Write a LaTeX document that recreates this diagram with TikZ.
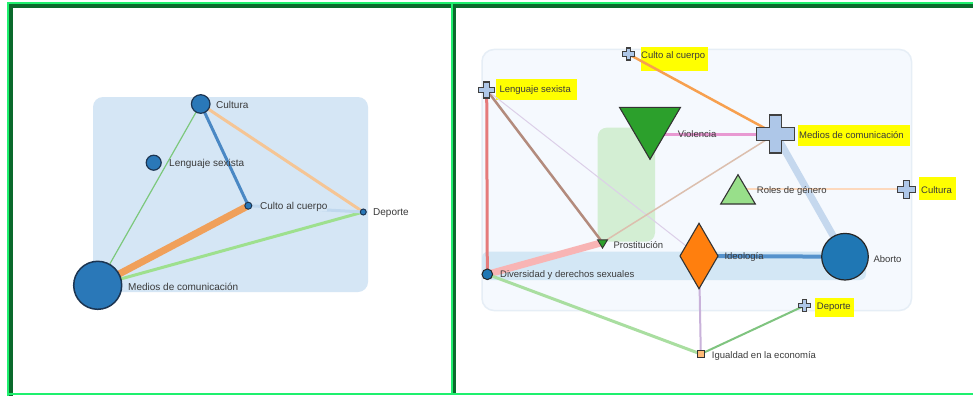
\documentclass[tikz,border=0pt]{standalone}
\usepackage{fontspec}
\setmainfont{Liberation Sans}
\usetikzlibrary{shapes.geometric}
\definecolor{gbright}{HTML}{1EF06E}
\definecolor{gdark}{HTML}{0B6A2C}
\definecolor{lpanel}{HTML}{D5E6F5}
\definecolor{rpanel}{HTML}{F5F9FE}
\definecolor{rpanelline}{HTML}{E6EEF6}
\definecolor{greenrect}{HTML}{D3EED3}
\definecolor{blueband}{HTML}{D3E7F5}
\definecolor{nodeblue}{HTML}{2A78B8}
\definecolor{nodestroke}{HTML}{1C3552}
\definecolor{plusfill}{HTML}{AEC7E8}
\definecolor{hl}{HTML}{FFFF00}
\definecolor{txt}{HTML}{3A3A3A}
% left edges
\definecolor{eLa}{RGB}{124,200,124}
\definecolor{eLb}{RGB}{74,136,196}
\definecolor{eLc}{RGB}{245,197,149}
\definecolor{eLd}{RGB}{240,160,90}
\definecolor{eLe}{RGB}{158,224,142}
\definecolor{eLf}{RGB}{192,216,238}
% right edges
\definecolor{eRa}{RGB}{247,160,79}
\definecolor{eRb}{RGB}{229,123,123}
\definecolor{eRc}{RGB}{179,139,125}
\definecolor{eRd}{RGB}{220,207,232}
\definecolor{eRe}{RGB}{232,153,210}
\definecolor{eRf}{RGB}{220,191,174}
\definecolor{eRg}{RGB}{197,216,238}
\definecolor{eRh}{RGB}{253,217,189}
\definecolor{eRi}{RGB}{85,146,204}
\definecolor{eRj}{RGB}{248,180,180}
\definecolor{eRk}{RGB}{169,222,160}
\definecolor{eRl}{RGB}{201,178,218}
\definecolor{eRm}{RGB}{127,196,127}
% shape fills
\definecolor{dgreen}{RGB}{44,160,44}
\definecolor{lgreen}{RGB}{152,223,138}
\definecolor{orangef}{RGB}{255,127,14}
\definecolor{bluef}{RGB}{31,119,180}
\definecolor{peach}{RGB}{255,187,120}
\newcommand\plusmark[3]{\draw[plusst, shift={(#1)}] (-#3,-#2) -- (#3,-#2) -- (#3,-#3) -- (#2,-#3) -- (#2,#3) -- (#3,#3) -- (#3,#2) -- (-#3,#2) -- (-#3,#3) -- (-#2,#3) -- (-#2,-#3) -- (-#3,-#3) -- cycle;}
\begin{document}
\begin{tikzpicture}[x=1pt,y=-1pt,
  lbl/.style={anchor=west,inner sep=0pt,text=txt,font=\fontsize{10}{11}\selectfont},
  rlbl/.style={anchor=west,inner sep=0pt,text=txt,font=\fontsize{9.5}{11}\selectfont},
  ldot/.style={circle,draw=nodestroke,fill=nodeblue,line width=1.2pt,inner sep=0pt},
  plusst/.style={draw=black!75,fill=plusfill,line width=1.1pt,line join=miter},
  shp/.style={draw=black!80,line width=1.1pt,line join=miter},
  edge/.style={line cap=butt}]
\useasboundingbox (0,0) rectangle (973,396);
\fill[white] (0,0) rectangle (973,396);
% ---------- frame ----------
\fill[gbright] (7,2) rectangle (973,4);
\fill[gbright] (7,2) rectangle (9,396);
\fill[gdark] (9,4) rectangle (973,8);
\fill[gdark] (9,4) rectangle (13,396);
\fill[gbright] (451,4) rectangle (453,393);
\fill[gdark] (453,4) rectangle (456,393);
\fill[gbright] (9,393) rectangle (973,395);

% ================= LEFT PANEL =================
\fill[lpanel,rounded corners=10pt] (93,97) rectangle (368,292);
\coordinate (Lcult) at (200.7,104);
\coordinate (Lleng) at (153.7,162.7);
\coordinate (Lculto) at (248.3,205.7);
\coordinate (Ldep) at (363.3,212);
\coordinate (Lmed) at (97.7,285.3);
\draw[edge,draw=eLa,line width=1.2pt] (Lcult) -- (Lmed);
\draw[edge,draw=eLb,line width=3pt] (Lcult) -- (Lculto);
\draw[edge,draw=eLc,line width=3pt] (Lcult) -- (Ldep);
\draw[edge,draw=eLd,line width=7pt] (Lculto) -- (Lmed);
\draw[edge,draw=eLe,line width=3pt] (Lmed) -- (Ldep);
\draw[edge,draw=eLf,line width=3pt] (Lculto) -- (Ldep);
\node[ldot,minimum size=18.6pt] (nLcult) at (Lcult) {};
\node[ldot,minimum size=15pt] (nLleng) at (Lleng) {};
\node[ldot,minimum size=7pt,line width=1pt] (nLculto) at (Lculto) {};
\node[ldot,minimum size=6pt,line width=1pt] (nLdep) at (Ldep) {};
\node[ldot,minimum size=48pt,line width=1.5pt] (nLmed) at (Lmed) {};
\node[lbl] (tLcult) at (216,104.5) {Cultura};
\node[lbl] (tLleng) at (169,163.5) {Lenguaje sexista};
\node[lbl,fill=lpanel] (tLculto) at (260,206.5) {Culto al cuerpo};
\node[lbl] (tLdep) at (373,213.5) {Deporte};
\node[lbl] (tLmed) at (128,287) {Medios de comunicación};

% ================= RIGHT PANEL =================
\filldraw[fill=rpanel,draw=rpanelline,line width=1.5pt,rounded corners=12pt] (482,49.5) rectangle (911.5,310.5);
\fill[greenrect,rounded corners=9pt] (597.7,127.7) rectangle (655,241.7);
\fill[blueband,rounded corners=6pt] (482,251.7) rectangle (866,280);
% highlights
\fill[hl] (641,47) rectangle (708,71);
\fill[hl] (496,79) rectangle (577,99.5);
\fill[hl] (798,125) rectangle (910,146);
\fill[hl] (919,177) rectangle (956,200);
\fill[hl] (815,298) rectangle (854,317);
% coordinates
\coordinate (Rculto) at (628.3,54);
\coordinate (Rleng) at (486.7,90);
\coordinate (Rviol) at (650,134);
\coordinate (Rmed) at (775.5,134);
\coordinate (Rroles) at (738,189.3);
\coordinate (Rcult) at (906.7,189.3);
\coordinate (Rideo) at (699,256);
\coordinate (Rabo) at (845,256.7);
\coordinate (Rprost) at (602.5,242.5);
\coordinate (Rdiv) at (487.3,274.3);
\coordinate (Rdep) at (804.5,305.7);
\coordinate (Rigual) at (700.8,354);
% edges
\draw[edge,draw=eRa,line width=2.5pt] (Rculto) -- (Rmed);
\draw[edge,draw=eRb,line width=3pt] (Rleng) -- (Rdiv);
\draw[edge,draw=eRc,line width=2.5pt] (Rleng) -- (Rprost);
\draw[edge,draw=eRd,line width=1pt] (Rleng) -- (Rideo);
\draw[edge,draw=eRe,line width=3pt] (Rviol) -- (Rmed);
\draw[edge,draw=eRf,line width=1.5pt] (Rmed) -- (Rprost);
\draw[edge,draw=eRg,line width=7pt] (Rmed) -- (Rabo);
\draw[edge,draw=eRh,line width=2pt] (Rroles) -- (Rcult);
\draw[edge,draw=eRi,line width=4pt] (Rideo) -- (Rabo);
\draw[edge,draw=eRj,line width=7pt] (Rprost) -- (Rdiv);
\draw[edge,draw=eRk,line width=3pt] (Rdiv) -- (Rigual);
\draw[edge,draw=eRl,line width=2pt] (Rideo) -- (Rigual);
\draw[edge,draw=eRm,line width=2pt] (Rigual) -- (Rdep);
% shapes
\plusmark{Rculto}{6}{2.2}
\plusmark{Rleng}{8}{2.8}
\plusmark{Rmed}{19}{6.2}
\plusmark{Rcult}{9}{3}
\plusmark{Rdep}{6}{2.2}
\draw[shp,fill=dgreen,shift={(Rviol)}] (-30.5,-26.7) -- (30.5,-26.7) -- (0,25.3) -- cycle;
\draw[shp,fill=lgreen,shift={(Rroles)}] (0,-14.6) -- (17.3,14.7) -- (-17.3,14.7) -- cycle;
\draw[shp,fill=dgreen,line width=0.9pt,shift={(Rprost)}] (-5,-2.7) -- (5,-2.7) -- (0,5.6) -- cycle;
\draw[shp,fill=orangef,shift={(Rideo)}] (0,-32.7) -- (19,0) -- (0,32.7) -- (-19,0) -- cycle;
\node[circle,draw=black!85,fill=bluef,line width=1.2pt,inner sep=0pt,minimum size=46.6pt] (nRabo) at (Rabo) {};
\node[circle,draw=black!85,fill=bluef,line width=1pt,inner sep=0pt,minimum size=10.6pt] (nRdiv) at (Rdiv) {};
\draw[shp,fill=peach,line width=1pt] ([shift={(-3.2,-3.2)}]Rigual) rectangle ([shift={(3.2,3.2)}]Rigual);
% labels
\node[rlbl] (tRculto) at (641,56.5) {Culto al cuerpo};
\node[rlbl] (tRleng) at (499.3,90.5) {Lenguaje sexista};
\node[rlbl] (tRviol) at (677.7,134.5) {Violencia};
\node[rlbl] (tRmed) at (799,135.5) {Medios de comunicación};
\node[rlbl] (tRroles) at (756.7,191) {Roles de género};
\node[rlbl] (tRcult) at (921,190.5) {Cultura};
\node[rlbl] (tRideo) at (724.3,257) {Ideología};
\node[rlbl] (tRabo) at (873.3,259) {Aborto};
\node[rlbl] (tRprost) at (613.3,245.5) {Prostitución};
\node[rlbl] (tRdiv) at (500,275.5) {Diversidad y derechos sexuales};
\node[rlbl] (tRdep) at (816.7,307.5) {Deporte};
\node[rlbl] (tRigual) at (711.7,355.5) {Igualdad en la economía};
\end{tikzpicture}
\end{document}
